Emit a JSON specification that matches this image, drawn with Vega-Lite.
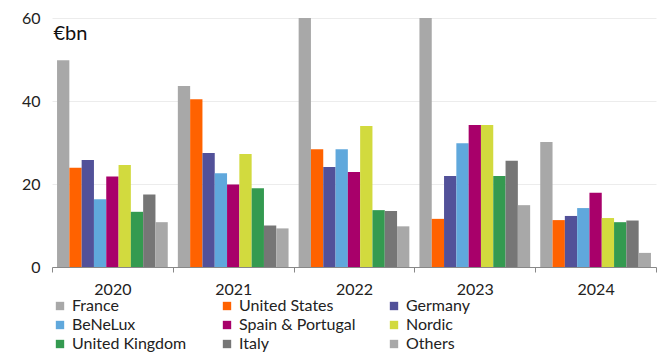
{
  "$schema": "https://vega.github.io/schema/vega-lite/v6.json",
  "autosize": "none",
  "width": 604,
  "height": 249,
  "padding": {"left": 52, "top": 18, "right": 5, "bottom": 92},
  "config": {
    "font": "Lato",
    "view": {"stroke": null}
  },
  "data": {
    "values": [
      {"year": "2020", "region": "France", "value": 49.8},
      {"year": "2020", "region": "United States", "value": 23.9},
      {"year": "2020", "region": "Germany", "value": 25.8},
      {"year": "2020", "region": "BeNeLux", "value": 16.3},
      {"year": "2020", "region": "Spain & Portugal", "value": 21.8},
      {"year": "2020", "region": "Nordic", "value": 24.6},
      {"year": "2020", "region": "United Kingdom", "value": 13.3},
      {"year": "2020", "region": "Italy", "value": 17.5},
      {"year": "2020", "region": "Others", "value": 10.8},
      {"year": "2021", "region": "France", "value": 43.6},
      {"year": "2021", "region": "United States", "value": 40.4},
      {"year": "2021", "region": "Germany", "value": 27.5},
      {"year": "2021", "region": "BeNeLux", "value": 22.6},
      {"year": "2021", "region": "Spain & Portugal", "value": 19.9},
      {"year": "2021", "region": "Nordic", "value": 27.2},
      {"year": "2021", "region": "United Kingdom", "value": 19.0},
      {"year": "2021", "region": "Italy", "value": 10.0},
      {"year": "2021", "region": "Others", "value": 9.3},
      {"year": "2022", "region": "France", "value": 60},
      {"year": "2022", "region": "United States", "value": 28.4},
      {"year": "2022", "region": "Germany", "value": 24.1},
      {"year": "2022", "region": "BeNeLux", "value": 28.4},
      {"year": "2022", "region": "Spain & Portugal", "value": 22.9},
      {"year": "2022", "region": "Nordic", "value": 34.0},
      {"year": "2022", "region": "United Kingdom", "value": 13.7},
      {"year": "2022", "region": "Italy", "value": 13.5},
      {"year": "2022", "region": "Others", "value": 9.8},
      {"year": "2023", "region": "France", "value": 60},
      {"year": "2023", "region": "United States", "value": 11.6},
      {"year": "2023", "region": "Germany", "value": 21.9},
      {"year": "2023", "region": "BeNeLux", "value": 29.8},
      {"year": "2023", "region": "Spain & Portugal", "value": 34.2},
      {"year": "2023", "region": "Nordic", "value": 34.2},
      {"year": "2023", "region": "United Kingdom", "value": 21.9},
      {"year": "2023", "region": "Italy", "value": 25.6},
      {"year": "2023", "region": "Others", "value": 14.9},
      {"year": "2024", "region": "France", "value": 30.1},
      {"year": "2024", "region": "United States", "value": 11.3},
      {"year": "2024", "region": "Germany", "value": 12.3},
      {"year": "2024", "region": "BeNeLux", "value": 14.2},
      {"year": "2024", "region": "Spain & Portugal", "value": 17.9},
      {"year": "2024", "region": "Nordic", "value": 11.8},
      {"year": "2024", "region": "United Kingdom", "value": 10.8},
      {"year": "2024", "region": "Italy", "value": 11.2},
      {"year": "2024", "region": "Others", "value": 3.4}
    ]
  },
  "mark": {"type": "bar", "clip": true},
  "encoding": {
    "x": {
      "field": "year",
      "type": "nominal",
      "scale": {"paddingInner": 0, "paddingOuter": 0},
      "axis": {
        "title": null,
        "labelAngle": 0,
        "labelFontSize": 16,
        "labelColor": "#222",
        "labelPadding": 9,
        "tickBand": "extent",
        "tickSize": 5,
        "tickColor": "#888",
        "domainColor": "#888",
        "grid": false
      }
    },
    "xOffset": {
      "field": "region",
      "type": "nominal",
      "sort": ["France", "United States", "Germany", "BeNeLux", "Spain & Portugal", "Nordic", "United Kingdom", "Italy", "Others"],
      "scale": {"paddingInner": 0, "paddingOuter": 0.41}
    },
    "y": {
      "field": "value",
      "type": "quantitative",
      "scale": {"domain": [0, 60], "nice": false},
      "axis": {
        "title": "€bn",
        "titleAngle": 0,
        "titleAlign": "left",
        "titleBaseline": "top",
        "titleX": 1,
        "titleY": 5,
        "titleFontSize": 20,
        "titleFontWeight": "normal",
        "titleColor": "#111",
        "values": [0, 20, 40, 60],
        "labelFontSize": 16,
        "labelColor": "#222",
        "labelPadding": 12,
        "domain": false,
        "ticks": false,
        "gridColor": "#ececec"
      }
    },
    "color": {
      "field": "region",
      "type": "nominal",
      "sort": ["France", "United States", "Germany", "BeNeLux", "Spain & Portugal", "Nordic", "United Kingdom", "Italy", "Others"],
      "scale": {
        "domain": ["France", "United States", "Germany", "BeNeLux", "Spain & Portugal", "Nordic", "United Kingdom", "Italy", "Others"],
        "range": ["#a8a8a8", "#ff6200", "#525199", "#60a8dc", "#a8006a", "#d2da3e", "#349a50", "#767676", "#a8a8a8"]
      },
      "legend": {
        "title": null,
        "orient": "none",
        "legendX": 0,
        "legendY": 280,
        "direction": "horizontal",
        "columns": 3,
        "gridAlign": "all",
        "columnPadding": 30,
        "rowPadding": 3,
        "symbolType": "square",
        "symbolSize": 70,
        "symbolOffset": 0,
        "labelFontSize": 16,
        "labelColor": "#222",
        "labelOffset": 4
      }
    }
  }
}
